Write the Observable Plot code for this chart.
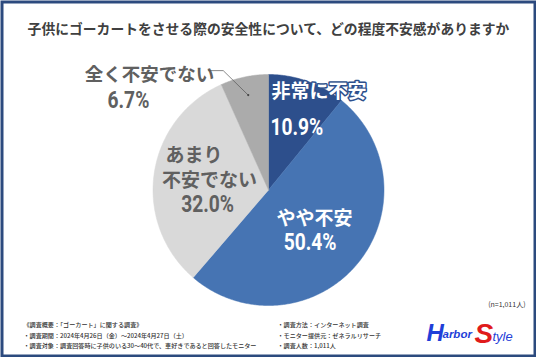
<!DOCTYPE html>
<html><head><meta charset="utf-8">
<script src="https://cdn.jsdelivr.net/npm/d3@7"></script>
<script src="https://cdn.jsdelivr.net/npm/@observablehq/plot@0.6"></script>
<style>html,body{margin:0;padding:0;background:#fff;} svg{display:block}</style>
</head><body><div id="chart"></div>
<script>
const title = "子供にゴーカートをさせる際の安全性について、どの程度不安感がありますか";
const categories = ["非常に不安", "やや不安", "あまり不安でない", "全く不安でない"];
const values = [10.9, 50.4, 32.0, 6.7];
const labelLines = [["非常に不安"], ["やや不安"], ["あまり", "不安でない"], ["全く不安でない"]];
const sampleNote = "(n=1,011人)";
const notesLeft = [
  "《調査概要：「ゴーカート」に関する調査》",
  "・調査期間：2024年4月26日（金）～2024年4月27日（土）",
  "・調査対象：調査回答時に子供のいる30～40代で、車好きであると回答したモニター"
];
const notesRight = [
  "・調査方法：インターネット調査",
  "・モニター提供元：ゼネラルリサーチ",
  "・調査人数：1,011人"
];

// ---- styling / layout (not data) ----
const colors = ["#2d4f8c", "#4674b3", "#d9d9d9", "#ababab"];
const W = 536, H = 357, R = 115.5, CX = 268, CY = 189.5;
const JP = "'Noto Sans CJK JP', 'Noto Sans', sans-serif";
// per-slice label layout: offsets (px) from the slice centroid (0.6 r)
const labelLayout = [
  {lines: [{dx: -20.3, dy: -33.2, anchor: "start", size: 19}], pct: {dx: -21.3, dy: 3, anchor: "start"}, fill: "white", halo: "#2d4f8c"},
  {lines: [{dx: -7.1, dy: -16, anchor: "middle", size: 19}], pct: {dx: -11.6, dy: 7.5, anchor: "middle"}, fill: "white"},
  {lines: [{dx: -34.4, dy: -24.5, anchor: "start", size: 19}, {dx: 9.6, dy: 0.5, anchor: "middle", size: 19}], pct: {dx: 7.6, dy: 24, anchor: "middle"}, fill: "#606060"},
  {lines: [{dx: -104.6, dy: -46.7, anchor: "middle", size: 18.5}], pct: {dx: -125.6, dy: -22.2, anchor: "middle"}, fill: "#606060"}
];

const data = categories.map((c, i) => ({key: c, value: values[i]}));
const arcs = d3.pie().sort(null).value(d => d.value)(data);

// slice polygons in unit coordinates (y up)
const polys = [];
arcs.forEach(a => {
  const k = a.data.key;
  polys.push({key: k, x: 0, y: 0});
  const n = Math.max(2, Math.ceil((a.endAngle - a.startAngle) / 0.01));
  for (let j = 0; j <= n; j++) {
    const t = a.startAngle + (a.endAngle - a.startAngle) * j / n;
    polys.push({key: k, x: Math.sin(t), y: Math.cos(t)});
  }
  polys.push({key: k, x: 0, y: 0});
});

const marks = [];
marks.push(Plot.line(polys, {x: "x", y: "y", z: "key", fill: "key", stroke: "key", strokeWidth: 0.5}));

arcs.forEach((a, i) => {
  const mid = (a.startAngle + a.endAngle) / 2;
  const cx = Math.sin(mid) * 0.6, cy = Math.cos(mid) * 0.6;
  const L = labelLayout[i];
  labelLines[i].forEach((txt, j) => {
    const ln = L.lines[j];
    marks.push(Plot.text([txt], {
      x: () => cx + ln.dx / R, y: () => cy - ln.dy / R, text: d => d,
      textAnchor: ln.anchor, lineAnchor: "middle", fontSize: ln.size, fontWeight: "bold",
      fontFamily: JP, fill: L.fill,
      ...(L.halo ? {stroke: L.halo, strokeWidth: 3, paintOrder: "stroke", strokeLinejoin: "round"} : {})
    }));
  });
  const p = L.pct;
  marks.push(Plot.text([a.data.value.toFixed(1) + "%"], {
    x: () => cx + p.dx / R, y: () => cy - p.dy / R, text: d => d,
    textAnchor: p.anchor, lineAnchor: "middle", fontSize: 24, fontWeight: "bold",
    fontFamily: "Roboto, sans-serif", fill: L.fill, className: "pct"
  }));
});

// leader line for the small slice
{
  const a = arcs[3];
  const mid = (a.startAngle + a.endAngle) / 2;
  const ex = Math.sin(mid) * 0.84, ey = Math.cos(mid) * 0.84;
  const pts = [
    {x: ex - 40 / R, y: ey + 24.5 / R},
    {x: ex - 25 / R, y: ey + 24.5 / R},
    {x: ex, y: ey}
  ];
  marks.push(Plot.line(pts, {x: "x", y: "y", stroke: "#555", strokeWidth: 0.7}));
  marks.push(Plot.dot([pts[2]], {x: "x", y: "y", r: 1.1, fill: "#444", stroke: null}));
}

// title, notes
marks.push(Plot.text([title], {frameAnchor: "top", dy: 29, text: d => d, lineAnchor: "middle",
  fontSize: 13.8, fontWeight: "bold", fill: "#404040", fontFamily: JP}));
marks.push(Plot.text([sampleNote], {frameAnchor: "top-right", dx: -11, dy: 304, text: d => d, textAnchor: "end",
  lineAnchor: "middle", fontSize: 7, fill: "#333", fontFamily: JP}));
notesLeft.forEach((t, i) => marks.push(Plot.text([t], {frameAnchor: "top-left", dx: 23, dy: 325 + i * 10.2,
  text: d => d, textAnchor: "start", lineAnchor: "middle", fontSize: 6.1, fill: "#333", fontWeight: 500, fontFamily: JP})));
notesRight.forEach((t, i) => marks.push(Plot.text([t], {frameAnchor: "top-left", dx: 277, dy: 325 + i * 10.2,
  text: d => d, textAnchor: "start", lineAnchor: "middle", fontSize: 6.1, fill: "#333", fontWeight: 500, fontFamily: JP})));

// logo (as text)
const logoFont = "'Liberation Sans', Arial, sans-serif";
marks.push(Plot.text(["H"], {frameAnchor: "top-left", dx: 426, dy: 333, text: d => d, textAnchor: "start", lineAnchor: "middle",
  fontSize: 24, fontWeight: "bold", fontStyle: "italic", fill: "#1f3fd8", fontFamily: logoFont}));
marks.push(Plot.text(["arbor"], {frameAnchor: "top-left", dx: 442, dy: 334, text: d => d, textAnchor: "start", lineAnchor: "middle",
  fontSize: 11.5, fontWeight: "bold", fontStyle: "italic", fill: "#1f3fd8", fontFamily: logoFont}));
marks.push(Plot.text(["S"], {frameAnchor: "top-left", dx: 474, dy: 334, text: d => d, textAnchor: "start", lineAnchor: "middle",
  fontSize: 28, fontWeight: "bold", fontStyle: "italic", fill: "#e01b1b", fontFamily: logoFont}));
marks.push(Plot.text(["tyle"], {frameAnchor: "top-left", dx: 492, dy: 336, text: d => d, textAnchor: "start", lineAnchor: "middle",
  fontSize: 13, fontStyle: "italic", fill: "#1f3fd8", fontFamily: logoFont}));

marks.push(Plot.frame({stroke: "#2c4a7e", strokeWidth: 3, inset: 1.5}));

const chart = Plot.plot({
  width: W, height: H, margin: 0,
  x: {domain: [-CX / R, (W - CX) / R], axis: null},
  y: {domain: [-(H - CY) / R, CY / R], axis: null},
  color: {domain: categories, range: colors},
  style: {background: "#fff", fontFamily: JP},
  marks
});
document.getElementById("chart").appendChild(chart);
chart.querySelectorAll(".pct text").forEach(t => {
  const len = t.getComputedTextLength();
  t.setAttribute("textLength", (len * 0.8).toFixed(1));
  t.setAttribute("lengthAdjust", "spacingAndGlyphs");
});
</script>
</body></html>
